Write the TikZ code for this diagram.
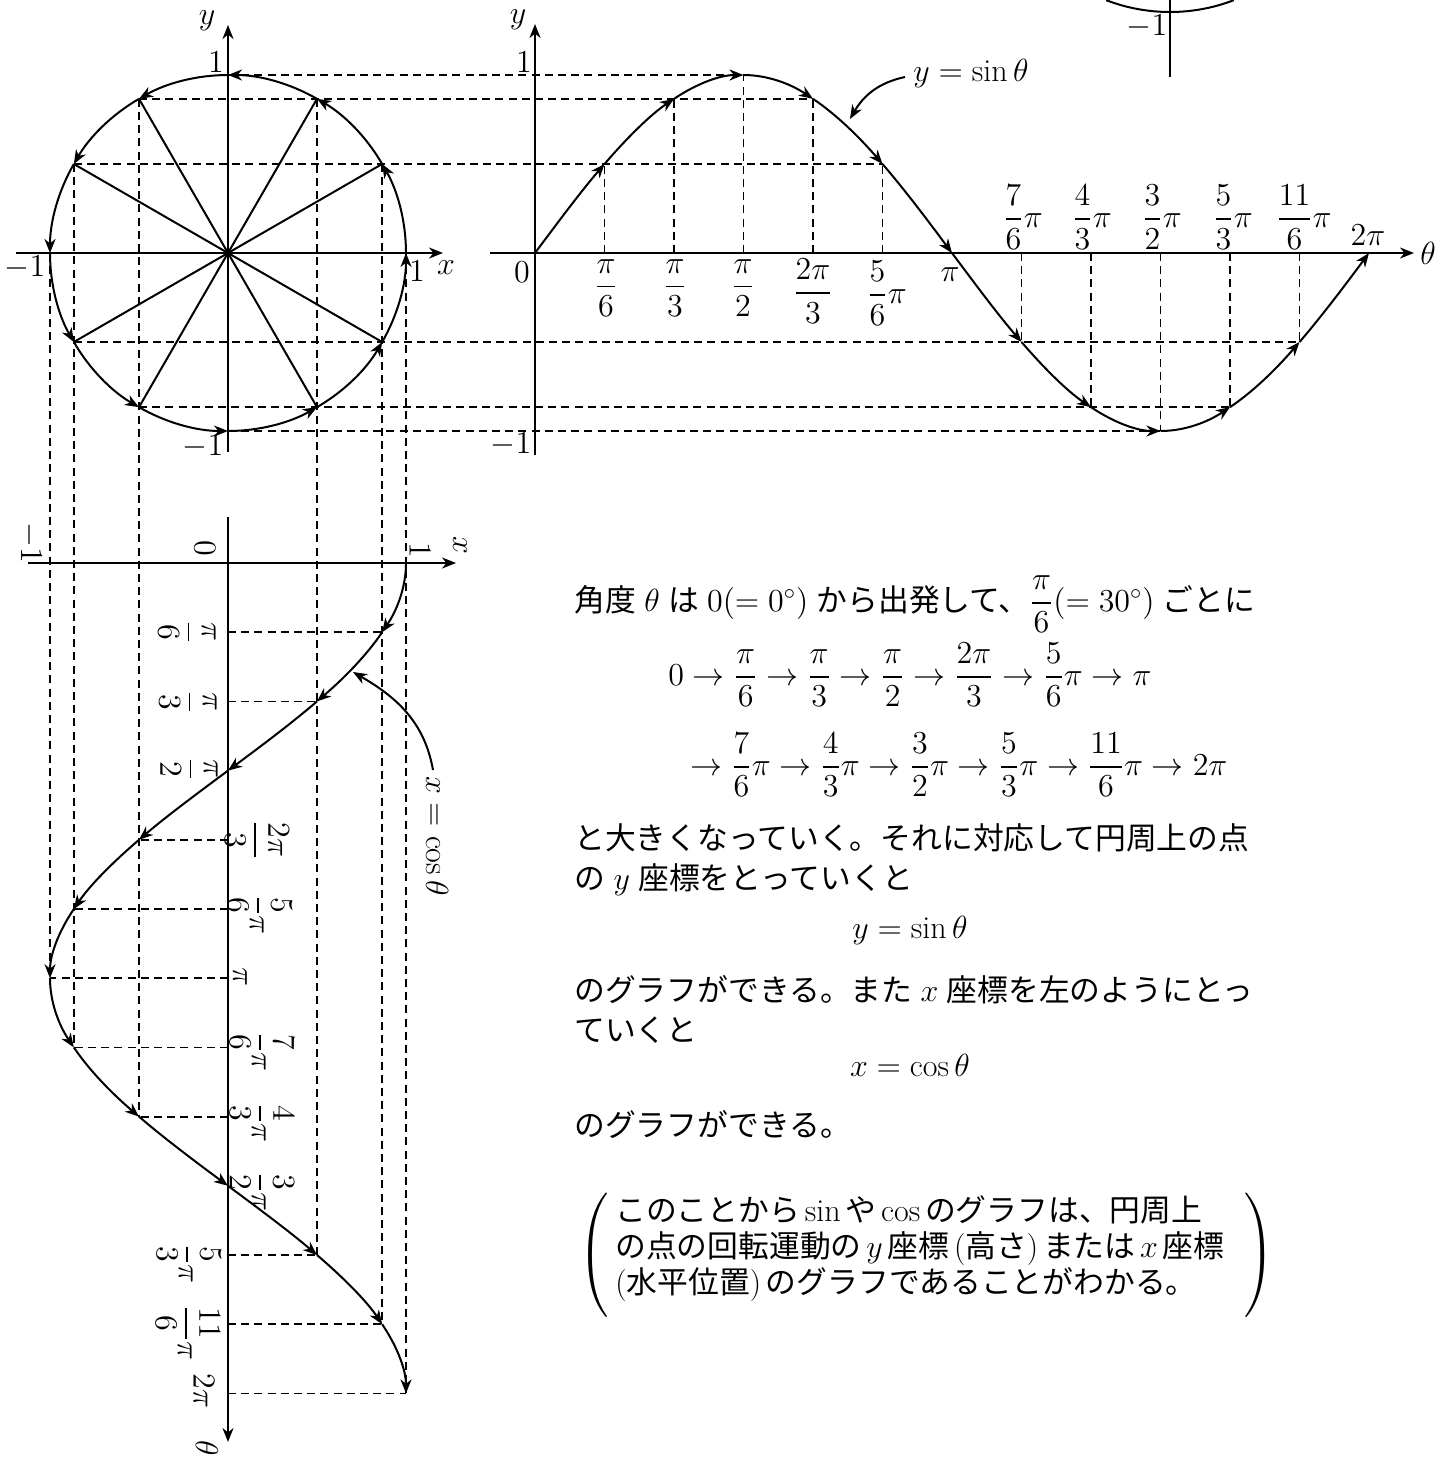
\RequirePackage{fix-cm}
\documentclass[tikz,border=0pt]{standalone}
\usepackage{amsmath}
\usepackage{fontspec}
\newfontfamily\jp[Scale=0.962]{Noto Sans CJK JP}
\newcommand\jpspacing{\spaceskip=0.26em\relax}
\newcommand\jpnarrow{\spaceskip=0.15em\relax}
\usetikzlibrary{arrows.meta}
\begin{document}
\begin{tikzpicture}[x=0.5pt,y=0.5pt,
  every node/.style={inner sep=0pt,font=\fontsize{16}{19.2}\selectfont},
  tip/.style={-{Stealth[length=7pt,width=5.5pt,inset=2.2pt]}},
  axisline/.style={line width=1pt,tip},
  curveline/.style={line width=1pt,tip},
  plainline/.style={line width=1pt},
  guide/.style={line width=0.9pt,dash pattern=on 4pt off 2.6pt},
  rot/.style={rotate=-90},
  txt/.style={anchor=base west,font=\fontsize{16}{19.2}\selectfont\jpspacing},
  boxtxt/.style={anchor=base west,font=\fontsize{16}{19.2}\selectfont\jpnarrow},
]
\fill[white] (0,0) rectangle (1450,-1458);
\useasboundingbox (0,0) rectangle (1450,-1458);

% key points
\coordinate (C) at (228,-253);
\foreach \k in {0,...,12}{
  \coordinate (c\k) at ({228+178*cos(30*\k)},{-253+178*sin(30*\k)});
  \coordinate (s\k) at ({535+69.5*\k},{-253+178*sin(30*\k)});
  \coordinate (sa\k) at ({535+69.5*\k},-253);
  \coordinate (k\k) at ({228+178*cos(30*\k)},{-563-69.2*\k});
  \coordinate (ka\k) at (228,{-563-69.2*\k});
}

% dashed guides: circle -> sine
\draw[guide] (c3) -- (s3);
\draw[guide] (c4) -- (s4);
\draw[guide] (c5) -- (s5);
\draw[guide] (c7) -- (s11);
\draw[guide] (c8) -- (s10);
\draw[guide] (c9) -- (s9);
\foreach \k in {1,2,3,4,5,7,8,9,10,11}{ \draw[guide] (sa\k) -- (s\k); }
% dashed guides: circle -> cosine
\draw[guide] (c6) -- (k6);
\draw[guide] (c5) -- (k7);
\draw[guide] (c4) -- (k8);
\draw[guide] (c2) -- (k10);
\draw[guide] (c1) -- (k11);
\draw[guide] (c0) -- (k12);
\foreach \k in {1,2,4,5,6,7,8,10,11,12}{ \draw[guide] (ka\k) -- (k\k); }

% unit circle
\foreach \a in {1,2,4,5,7,8,10,11}{ \draw[plainline] (C) -- (c\a); }
\foreach \k in {0,...,11}{
  \draw[curveline] (c\k) arc[start angle=30*\k, end angle=30*\k+30, radius=178];
}
\coordinate (cxs) at (16,-253);  \coordinate (cxe) at (443,-253);
\coordinate (cys) at (228,-452); \coordinate (cye) at (228,-25);
\draw[axisline] (cxs) -- (cxe);
\draw[axisline] (cys) -- (cye);
\node (cyl) at (207,-21) {$y$};
\node (c1t) at (216,-62) {$1$};
\node (cm1l) at (25,-268) {$-1$};
\node (c1r) at (417,-271) {$1$};
\node (cxl) at (446,-268) {$x$};
\node (cm1b) at (203,-447) {$-1$};

% sine graph
\coordinate (sxs) at (490,-253);  \coordinate (sxe) at (1414,-253);
\coordinate (sys) at (535,-455);  \coordinate (sye) at (535,-24);
\draw[axisline] (sxs) -- (sxe);
\draw[axisline] (sys) -- (sye);
\foreach \k in {0,...,11}{
  \pgfmathtruncatemacro{\kk}{\k+1}
  \draw[curveline] (s\k) .. controls +(23.17,{31.07*cos(30*\k)}) and +(-23.17,{-31.07*cos(30*\kk)}) .. (s\kk);
}
\node (syl) at (518,-20) {$y$};
\node (s1l) at (524,-62) {$1$};
\node (sm1l) at (511,-445) {$-1$};
\node (s0l) at (522,-272) {$0$};
\node at (606,-288) {$\dfrac{\pi}{6}$};
\node at (675,-288) {$\dfrac{\pi}{3}$};
\node at (743,-288) {$\dfrac{\pi}{2}$};
\node at (813,-291) {$\dfrac{2\pi}{3}$};
\node at (887,-293) {$\dfrac{5}{6}\pi$};
\node at (950,-275) {$\pi$};
\node at (1023,-217) {$\dfrac{7}{6}\pi$};
\node at (1092,-217) {$\dfrac{4}{3}\pi$};
\node at (1162,-217) {$\dfrac{3}{2}\pi$};
\node at (1233,-217) {$\dfrac{5}{3}\pi$};
\node at (1304,-217) {$\dfrac{11}{6}\pi$};
\node at (1368,-235) {$2\pi$};
\node at (1428,-253) {$\theta$};
\node (sinlbl) at (971,-73) {$y=\sin\theta$};
\coordinate (sinfrom) at (905,-77);
\coordinate (sinto) at (850,-119);
\draw[curveline] (sinfrom) to[out=192,in=60] (sinto);

% cosine graph
\coordinate (kxs) at (28,-563);  \coordinate (kxe) at (456,-563);
\coordinate (kts) at (228,-517); \coordinate (kte) at (228,-1442);
\draw[axisline] (kxs) -- (kxe);
\draw[axisline] (kts) -- (kte);
\foreach \k in {0,...,11}{
  \pgfmathtruncatemacro{\kk}{\k+1}
  \draw[curveline] (k\k) .. controls +({-31.07*sin(30*\k)},-23.07) and +({31.07*sin(30*\kk)},23.07) .. (k\kk);
}
\node[rot] at (30,-543) {$-1$};
\node[rot] at (205,-548) {$0$};
\node[rot] at (420,-550) {$1$};
\node[rot] at (460,-545) {$x$};
\node[rot] at (187,-632) {$\dfrac{\pi}{6}$};
\node[rot] at (188,-702) {$\dfrac{\pi}{3}$};
\node[rot] at (189,-769) {$\dfrac{\pi}{2}$};
\node[rot] at (257,-840) {$\dfrac{2\pi}{3}$};
\node[rot] at (260,-915) {$\dfrac{5}{6}\pi$};
\node[rot] at (240,-977) {$\pi$};
\node[rot] at (262,-1052) {$\dfrac{7}{6}\pi$};
\node[rot] at (262,-1123) {$\dfrac{4}{3}\pi$};
\node[rot] at (262,-1192) {$\dfrac{3}{2}\pi$};
\node[rot] at (189,-1264) {$\dfrac{5}{3}\pi$};
\node[rot] at (188,-1333) {$\dfrac{11}{6}\pi$};
\node[rot] at (204,-1391) {$2\pi$};
\node[rot] at (207,-1448) {$\theta$};
\node[rot] (coslbl) at (437,-836) {$x=\cos\theta$};
\coordinate (cosfrom) at (433,-770);
\coordinate (costo) at (353,-672);
\draw[curveline] (cosfrom) to[out=100,in=-30] (costo);

% fragment at the top right
\coordinate (fa) at (1170,0); \coordinate (fb) at (1170,-77);
\draw[plainline] (fa) -- (fb);
\draw[plainline] ({1170+178*cos(249)},{166+178*sin(249)}) arc[start angle=249,end angle=291,radius=178];
\node (fm1) at (1147,-27) {$-1$};

% text
\node[txt] (t1) at (574,-611) {{\jp 角度} $\theta$ {\jp は} $0(=0^\circ)$ {\jp から出発して、}$\dfrac{\pi}{6}(=30^\circ)$ {\jp ごとに}};
\node[txt] (t2) at (668,-685) {$0\to\dfrac{\pi}{6}\to\dfrac{\pi}{3}\to\dfrac{\pi}{2}\to\dfrac{2\pi}{3}\to\dfrac{5}{6}\pi\to\pi$};
\node[txt] (t3) at (690,-775) {$\to\dfrac{7}{6}\pi\to\dfrac{4}{3}\pi\to\dfrac{3}{2}\pi\to\dfrac{5}{3}\pi\to\dfrac{11}{6}\pi\to2\pi$};
\node[txt] (t4) at (574,-849) {\jp と大きくなっていく。それに対応して円周上の点};
\node[txt] (t5) at (574,-889) {{\jp の} $y$ {\jp 座標をとっていくと}};
\node[anchor=base] (t6) at (910,-938) {$y=\sin\theta$};
\node[txt] (t7) at (574,-1001) {{\jp のグラフができる。また} $x$ {\jp 座標を左のようにとっ}};
\node[txt] (t8) at (574,-1041) {\jp ていくと};
\node[anchor=base] (t9) at (910,-1076) {$x=\cos\theta$};
\node[txt] (t10) at (574,-1136) {\jp のグラフができる。};
\node[boxtxt] (b1) at (615,-1221) {{\jp このことから} $\sin$ {\jp や} $\cos$ {\jp のグラフは、円周上}};
\node[boxtxt] (b2) at (615,-1257) {{\jp の点の回転運動の} $y$ {\jp 座標} ({\jp 高さ}) {\jp または} $x$ {\jp 座標}};
\node[boxtxt] (b3) at (615,-1293) {({\jp 水平位置}) {\jp のグラフであることがわかる。}};
\node (lp) at (595,-1255) {$\left(\vcenter{\hbox{\rule{0pt}{62pt}}}\right.$};
\node (rp) at (1258,-1255) {$\left.\vcenter{\hbox{\rule{0pt}{62pt}}}\right)$};
\end{tikzpicture}
\end{document}
